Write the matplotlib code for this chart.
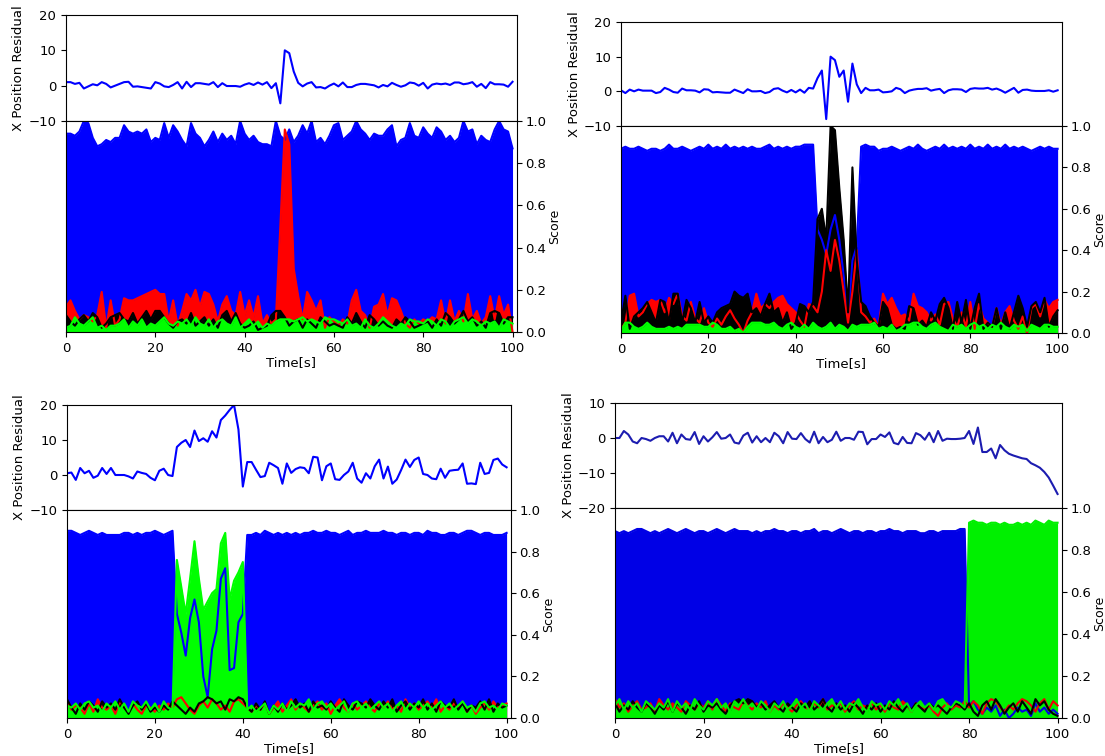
import numpy as np
import matplotlib.pyplot as plt

plt.rcParams['font.size'] = 9.5

time = np.arange(101)

# ---- panel 1 (top left) ----
res_1 = [1.0, 1.0, 0.5, 0.8, -0.8, -0.2, 0.4, 0.1, 1.0, 0.5,
         -0.5, 0.0, 0.5, 1.0, 1.1, -0.3, -0.2, -0.4, -0.6, -0.8,
         1.0, 0.6, -0.2, -0.4, 0.2, 1.0, -0.8, 1.1, -0.4, 0.7,
         0.7, 0.5, 0.3, 1.0, -0.4, 0.7, -0.1, -0.1, -0.1, -0.3,
         0.3, 0.7, 0.2, 0.9, 0.3, 1.0, -0.7, 0.7, -5.0, 10.0,
         9.2, 4.0, 0.8, -0.2, 0.6, 1.0, -0.5, -0.4, -0.8, 0.0,
         0.6, -0.2, 0.9, -0.4, -0.4, 0.2, 0.5, 0.5, 0.3, 0.1,
         -0.5, 0.2, -0.2, 0.8, 0.2, -0.3, 0.1, 0.9, 0.7, 0.0,
         0.8, -0.8, 0.3, 0.6, 0.4, 0.6, 0.2, 0.9, 0.9, 0.4,
         0.6, 1.0, -0.3, 0.5, -0.7, 1.0, 0.4, 0.4, 0.3, -0.3,
         1.1]
blue_1 = [0.94, 0.94, 0.93, 0.95, 1.0, 0.99, 0.92, 0.88, 0.89, 0.91,
          0.90, 0.92, 0.92, 0.98, 0.95, 0.94, 0.95, 0.94, 0.96, 0.90,
          0.92, 0.91, 0.99, 0.92, 0.98, 0.95, 0.91, 0.88, 0.99, 0.94,
          0.92, 0.88, 0.91, 0.95, 0.90, 0.94, 0.91, 0.93, 0.89, 1.0,
          0.94, 0.91, 0.93, 0.90, 0.89, 0.89, 0.88, 1.0, 0.93, 0.91,
          0.96, 0.90, 0.93, 0.98, 0.94, 1.0, 0.90, 0.92, 0.89, 0.93,
          0.98, 0.99, 0.91, 0.93, 0.95, 1.0, 0.96, 0.94, 0.91, 0.94,
          0.93, 0.93, 0.96, 0.98, 0.88, 0.91, 0.92, 0.99, 0.93, 0.92,
          0.97, 0.94, 0.92, 0.97, 0.95, 0.91, 0.93, 0.90, 0.92, 1.0,
          0.95, 0.96, 0.89, 0.93, 0.91, 0.90, 0.96, 1.0, 0.96, 0.95,
          0.87]
red_1 = [0.12, 0.15, 0.10, 0.06, 0.08, 0.07, 0.05, 0.08, 0.19, 0.02,
         0.15, 0.03, 0.06, 0.16, 0.15, 0.15, 0.16, 0.17, 0.18, 0.19,
         0.20, 0.18, 0.18, 0.05, 0.15, 0.03, 0.10, 0.18, 0.15, 0.20,
         0.12, 0.19, 0.18, 0.13, 0.05, 0.13, 0.17, 0.10, 0.08, 0.19,
         0.08, 0.15, 0.07, 0.17, 0.04, 0.08, 0.04, 0.06, 0.50, 0.96,
         0.89, 0.30, 0.17, 0.06, 0.19, 0.15, 0.10, 0.15, 0.02, 0.07,
         0.05, 0.03, 0.06, 0.04, 0.15, 0.20, 0.10, 0.08, 0.02, 0.12,
         0.13, 0.18, 0.08, 0.16, 0.15, 0.10, 0.04, 0.02, 0.06, 0.04,
         0.06, 0.05, 0.07, 0.06, 0.15, 0.04, 0.15, 0.05, 0.10, 0.05,
         0.18, 0.06, 0.10, 0.04, 0.07, 0.17, 0.06, 0.17, 0.08, 0.13,
         0.0]
black_1 = [0.08, 0.05, 0.03, 0.06, 0.08, 0.05, 0.09, 0.07, 0.02, 0.04,
           0.07, 0.08, 0.09, 0.06, 0.05, 0.09, 0.04, 0.07, 0.10, 0.06,
           0.10, 0.10, 0.07, 0.04, 0.02, 0.05, 0.06, 0.04, 0.09, 0.03,
           0.05, 0.07, 0.03, 0.06, 0.02, 0.08, 0.10, 0.05, 0.09, 0.04,
           0.02, 0.03, 0.05, 0.01, 0.02, 0.03, 0.08, 0.10, 0.10, 0.07,
           0.03, 0.05, 0.06, 0.02, 0.06, 0.04, 0.02, 0.07, 0.05, 0.03,
           0.04, 0.03, 0.02, 0.07, 0.04, 0.09, 0.05, 0.02, 0.08, 0.06,
           0.03, 0.05, 0.03, 0.02, 0.06, 0.04, 0.07, 0.05, 0.02, 0.03,
           0.04, 0.05, 0.02, 0.06, 0.03, 0.09, 0.07, 0.04, 0.06, 0.10,
           0.05, 0.07, 0.03, 0.05, 0.02, 0.09, 0.10, 0.09, 0.04, 0.07,
           0.07]
green_1 = [0.02, 0.03, 0.07, 0.04, 0.03, 0.05, 0.07, 0.02, 0.03, 0.01,
           0.03, 0.03, 0.04, 0.06, 0.02, 0.05, 0.03, 0.06, 0.02, 0.04,
           0.03, 0.05, 0.07, 0.04, 0.03, 0.05, 0.04, 0.06, 0.03, 0.07,
           0.04, 0.03, 0.06, 0.02, 0.05, 0.06, 0.04, 0.03, 0.07, 0.02,
           0.04, 0.06, 0.03, 0.05, 0.02, 0.04, 0.03, 0.05, 0.06, 0.06,
           0.06, 0.05, 0.06, 0.07, 0.05, 0.06, 0.05, 0.04, 0.07, 0.06,
           0.06, 0.05, 0.04, 0.06, 0.03, 0.04, 0.02, 0.06, 0.03, 0.02,
           0.04, 0.07, 0.05, 0.03, 0.02, 0.04, 0.03, 0.06, 0.05, 0.05,
           0.04, 0.06, 0.05, 0.03, 0.06, 0.05, 0.02, 0.05, 0.06, 0.07,
           0.04, 0.06, 0.05, 0.03, 0.05, 0.04, 0.05, 0.02, 0.06, 0.05,
           0.04]

# ---- panel 2 (top right) ----
res_2 = [0.3, -0.5, 0.5, 0.0, 0.5, 0.2, 0.2, 0.2, -0.5, -0.2,
         1.0, 0.5, -0.2, -0.4, 0.8, 0.3, 0.3, 0.2, -0.3, 0.6,
         0.5, -0.3, -0.2, -0.3, -0.4, -0.4, 0.5, 0.0, -0.5, 0.6,
         0.0, 0.0, 0.1, -0.5, -0.2, 0.7, 0.9, 0.2, -0.3, 0.4,
         -0.3, 0.5, -0.4, 1.0, 0.8, 3.8, 6.0, -8.0, 10.0, 9.0,
         4.2, 6.0, -3.0, 8.0, 2.0, -0.5, 1.0, 0.3, 0.3, 0.5,
         -0.3, -0.2, 0.0, 1.0, 0.6, -0.5, 0.2, 0.5, 0.7, 0.7,
         0.9, 0.2, 0.5, 0.7, -0.5, 0.3, 0.6, 0.6, 0.5, -0.2,
         0.7, 0.9, 0.8, 0.8, 1.0, 0.5, 0.8, 0.3, -0.4, 0.3,
         1.0, -0.4, 0.4, 0.5, 0.2, 0.1, 0.1, 0.1, 0.3, -0.1,
         0.3]
blue_2 = [0.89, 0.90, 0.89, 0.89, 0.90, 0.89, 0.88, 0.89, 0.89, 0.88,
          0.89, 0.91, 0.89, 0.89, 0.90, 0.89, 0.88, 0.89, 0.90, 0.89,
          0.91, 0.89, 0.90, 0.89, 0.91, 0.89, 0.90, 0.89, 0.90, 0.89,
          0.90, 0.89, 0.89, 0.90, 0.91, 0.89, 0.90, 0.89, 0.90, 0.89,
          0.90, 0.90, 0.91, 0.91, 0.91, 0.50, 0.45, 0.38, 0.50, 0.57,
          0.45, 0.28, 0.08, 0.35, 0.42, 0.90, 0.91, 0.90, 0.90, 0.88,
          0.89, 0.89, 0.90, 0.89, 0.88, 0.89, 0.90, 0.89, 0.91, 0.89,
          0.88, 0.89, 0.90, 0.89, 0.91, 0.89, 0.90, 0.89, 0.90, 0.89,
          0.91, 0.89, 0.90, 0.89, 0.91, 0.89, 0.90, 0.89, 0.91, 0.89,
          0.90, 0.89, 0.90, 0.89, 0.88, 0.89, 0.90, 0.89, 0.90, 0.89,
          0.89]
red_2 = [0.02, 0.05, 0.18, 0.19, 0.08, 0.10, 0.14, 0.16, 0.15, 0.16,
         0.10, 0.17, 0.14, 0.19, 0.08, 0.06, 0.15, 0.07, 0.05, 0.12,
         0.05, 0.03, 0.07, 0.04, 0.08, 0.11, 0.07, 0.04, 0.00, 0.06,
         0.10, 0.19, 0.12, 0.14, 0.12, 0.15, 0.17, 0.18, 0.14, 0.12,
         0.10, 0.06, 0.03, 0.14, 0.13, 0.10, 0.20, 0.40, 0.30, 0.45,
         0.35, 0.20, 0.05, 0.20, 0.40, 0.10, 0.08, 0.05, 0.07, 0.03,
         0.19, 0.14, 0.17, 0.12, 0.08, 0.09, 0.06, 0.19, 0.13, 0.12,
         0.10, 0.06, 0.09, 0.04, 0.14, 0.15, 0.07, 0.03, 0.10, 0.03,
         0.15, 0.02, 0.14, 0.07, 0.05, 0.03, 0.12, 0.04, 0.10, 0.13,
         0.06, 0.02, 0.08, 0.00, 0.12, 0.14, 0.08, 0.16, 0.12, 0.15,
         0.16]
black_2 = [0.05, 0.18, 0.02, 0.08, 0.10, 0.12, 0.15, 0.10, 0.05, 0.16,
           0.15, 0.05, 0.19, 0.19, 0.05, 0.16, 0.12, 0.05, 0.15, 0.05,
           0.08, 0.05, 0.10, 0.12, 0.13, 0.14, 0.20, 0.18, 0.17, 0.19,
           0.10, 0.12, 0.08, 0.14, 0.19, 0.10, 0.12, 0.05, 0.10, 0.02,
           0.05, 0.14, 0.13, 0.10, 0.15, 0.55, 0.60, 0.45, 1.00, 0.98,
           0.70, 0.45, 0.10, 0.80, 0.35, 0.15, 0.13, 0.08, 0.05, 0.03,
           0.15, 0.12, 0.04, 0.02, 0.03, 0.02, 0.13, 0.12, 0.04, 0.06,
           0.03, 0.10, 0.06, 0.14, 0.17, 0.12, 0.02, 0.15, 0.05, 0.16,
           0.02, 0.12, 0.19, 0.02, 0.05, 0.03, 0.12, 0.02, 0.10, 0.02,
           0.10, 0.18, 0.12, 0.03, 0.13, 0.15, 0.10, 0.17, 0.03, 0.08,
           0.11]
green_2 = [0.01, 0.05, 0.05, 0.03, 0.02, 0.03, 0.05, 0.03, 0.02, 0.02,
           0.02, 0.03, 0.02, 0.03, 0.02, 0.04, 0.04, 0.04, 0.04, 0.03,
           0.03, 0.05, 0.04, 0.02, 0.02, 0.03, 0.01, 0.02, 0.00, 0.03,
           0.05, 0.05, 0.05, 0.04, 0.04, 0.05, 0.03, 0.02, 0.04, 0.05,
           0.03, 0.02, 0.04, 0.02, 0.05, 0.03, 0.02, 0.03, 0.05, 0.02,
           0.04, 0.03, 0.01, 0.04, 0.03, 0.04, 0.04, 0.04, 0.05, 0.02,
           0.03, 0.02, 0.04, 0.01, 0.02, 0.04, 0.04, 0.05, 0.05, 0.03,
           0.02, 0.04, 0.05, 0.03, 0.02, 0.01, 0.04, 0.03, 0.04, 0.02,
           0.04, 0.05, 0.03, 0.04, 0.02, 0.04, 0.03, 0.05, 0.03, 0.02,
           0.04, 0.03, 0.04, 0.01, 0.04, 0.03, 0.02, 0.04, 0.04, 0.03,
           0.03]

# ---- panel 3 (bottom left) ----
res_3 = [0.5, 0.7, -1.4, 2.0, 0.5, 1.2, -0.8, -0.2, 2.0, 0.3,
         2.0, 0.0, 0.0, 0.0, -0.4, -1.0, 1.0, 0.6, 0.3, -0.8,
         -1.5, 1.2, 1.8, 0.0, -0.3, 8.0, 9.2, 10.0, 8.0, 12.7,
         9.7, 10.5, 9.5, 12.5, 10.7, 15.7, 17.0, 18.6, 20.0, 13.0,
         -3.3, 3.7, 3.7, 1.5, -0.6, -0.3, 3.5, 2.8, 2.0, -2.5,
         3.3, 0.6, 1.7, 2.2, 2.0, 0.5, 5.2, 5.0, -1.5, 2.5,
         3.3, -1.2, -1.4, 0.0, 1.0, 3.5, -1.0, -2.2, 0.5, -1.0,
         2.5, 4.4, -1.0, 2.4, -2.5, -1.3, 1.4, 4.4, 2.3, 4.3,
         5.0, 0.3, 0.0, -1.0, -1.2, 1.8, -0.8, 1.2, 1.4, 1.5,
         3.3, -2.5, -2.4, -2.6, 3.5, 0.3, 0.6, 4.3, 4.7, 3.0,
         2.2]
blue_3 = [0.90, 0.90, 0.89, 0.88, 0.89, 0.90, 0.89, 0.88, 0.89, 0.88,
          0.88, 0.88, 0.88, 0.89, 0.89, 0.88, 0.89, 0.88, 0.89, 0.89,
          0.90, 0.89, 0.88, 0.89, 0.90, 0.50, 0.41, 0.30, 0.48, 0.57,
          0.46, 0.20, 0.10, 0.33, 0.42, 0.67, 0.72, 0.23, 0.24, 0.46,
          0.50, 0.88, 0.88, 0.89, 0.88, 0.90, 0.89, 0.88, 0.89, 0.88,
          0.89, 0.88, 0.89, 0.88, 0.89, 0.89, 0.90, 0.89, 0.89, 0.90,
          0.89, 0.89, 0.88, 0.89, 0.90, 0.88, 0.89, 0.89, 0.90, 0.89,
          0.89, 0.89, 0.90, 0.89, 0.89, 0.88, 0.89, 0.89, 0.88, 0.89,
          0.89, 0.88, 0.90, 0.89, 0.89, 0.88, 0.88, 0.89, 0.89, 0.88,
          0.89, 0.90, 0.90, 0.89, 0.88, 0.89, 0.89, 0.88, 0.88, 0.88,
          0.89]
red_3 = [0.08, 0.04, 0.06, 0.05, 0.02, 0.07, 0.03, 0.09, 0.05, 0.04,
         0.06, 0.02, 0.08, 0.05, 0.03, 0.07, 0.04, 0.02, 0.06, 0.05,
         0.03, 0.06, 0.04, 0.07, 0.05, 0.09, 0.10, 0.07, 0.04, 0.02,
         0.06, 0.08, 0.05, 0.09, 0.07, 0.04, 0.06, 0.03, 0.08, 0.09,
         0.07, 0.05, 0.03, 0.06, 0.04, 0.07, 0.02, 0.05, 0.08, 0.03,
         0.06, 0.09, 0.04, 0.07, 0.05, 0.03, 0.06, 0.08, 0.04, 0.07,
         0.02, 0.06, 0.09, 0.05, 0.03, 0.07, 0.04, 0.06, 0.08, 0.05,
         0.03, 0.07, 0.05, 0.08, 0.04, 0.06, 0.03, 0.09, 0.05, 0.07,
         0.04, 0.06, 0.08, 0.05, 0.09, 0.03, 0.06, 0.04, 0.07, 0.05,
         0.08, 0.03, 0.06, 0.02, 0.05, 0.07, 0.04, 0.08, 0.05, 0.06,
         0.07]
black_3 = [0.09, 0.05, 0.02, 0.07, 0.04, 0.08, 0.06, 0.03, 0.08, 0.05,
           0.07, 0.04, 0.09, 0.05, 0.02, 0.06, 0.08, 0.04, 0.07, 0.03,
           0.05, 0.03, 0.06, 0.04, 0.08, 0.06, 0.04, 0.02, 0.05, 0.03,
           0.07, 0.08, 0.10, 0.09, 0.07, 0.08, 0.04, 0.09, 0.08, 0.10,
           0.09, 0.05, 0.03, 0.07, 0.04, 0.08, 0.02, 0.06, 0.03, 0.07,
           0.04, 0.06, 0.09, 0.05, 0.07, 0.03, 0.08, 0.05, 0.06, 0.04,
           0.08, 0.05, 0.03, 0.09, 0.06, 0.04, 0.08, 0.07, 0.05, 0.09,
           0.06, 0.04, 0.08, 0.05, 0.09, 0.03, 0.06, 0.08, 0.04, 0.07,
           0.05, 0.09, 0.04, 0.07, 0.03, 0.08, 0.06, 0.05, 0.09, 0.04,
           0.07, 0.03, 0.06, 0.05, 0.08, 0.04, 0.09, 0.03, 0.07, 0.05,
           0.06]
green_3 = [0.06, 0.05, 0.07, 0.04, 0.07, 0.08, 0.05, 0.06, 0.03, 0.07,
           0.05, 0.08, 0.04, 0.07, 0.03, 0.08, 0.06, 0.05, 0.08, 0.04,
           0.07, 0.03, 0.08, 0.05, 0.04, 0.76, 0.63, 0.50, 0.67, 0.85,
           0.67, 0.52, 0.56, 0.60, 0.62, 0.84, 0.89, 0.57, 0.66, 0.70,
           0.75, 0.04, 0.06, 0.03, 0.05, 0.07, 0.02, 0.06, 0.04, 0.07,
           0.03, 0.08, 0.05, 0.07, 0.06, 0.09, 0.04, 0.07, 0.08, 0.05,
           0.07, 0.04, 0.06, 0.08, 0.03, 0.07, 0.08, 0.05, 0.07, 0.04,
           0.06, 0.08, 0.05, 0.07, 0.03, 0.06, 0.08, 0.04, 0.07, 0.05,
           0.08, 0.05, 0.07, 0.04, 0.06, 0.08, 0.05, 0.07, 0.04, 0.06,
           0.08, 0.05, 0.06, 0.03, 0.07, 0.08, 0.05, 0.06, 0.04, 0.07,
           0.06]

# ---- panel 4 (bottom right) ----
res_4 = [0.0, 0.0, 2.0, 1.0, -1.0, -1.5, 0.0, -0.3, -0.8, 0.0,
         0.5, 0.5, -1.0, 1.5, -1.5, 1.0, -0.3, -0.5, 1.7, -1.7,
         0.5, -1.0, 0.2, 1.7, -0.2, 0.0, 1.0, -1.3, -1.6, 0.7,
         1.5, -1.3, 0.5, -1.2, 0.0, -1.2, 1.5, 0.5, -1.5, 1.7,
         -0.2, -0.3, 1.4, -0.3, -1.3, 1.8, -1.5, 0.3, -1.2, -0.5,
         1.8, -0.8, 0.0, 0.0, -0.5, 1.8, 1.7, -1.8, -0.3, -0.3,
         1.0, 0.3, 1.6, -1.4, -1.8, 0.3, -1.4, -1.5, 1.4, 0.8,
         -0.5, 1.5, -1.2, 2.0, -0.8, -0.2, -0.3, -0.3, -0.2, 0.0,
         2.0, -1.7, 3.0, -4.0, -4.0, -3.0, -5.8, -2.0, -3.5, -4.5,
         -5.0, -5.4, -5.8, -6.0, -7.2, -7.8, -8.5, -9.7, -11.3, -13.6,
         -16.0]
blue_4 = [0.89, 0.88, 0.89, 0.88, 0.89, 0.90, 0.90, 0.89, 0.88, 0.89,
          0.88, 0.89, 0.90, 0.89, 0.88, 0.89, 0.90, 0.89, 0.88, 0.89,
          0.89, 0.88, 0.89, 0.90, 0.89, 0.88, 0.89, 0.90, 0.89, 0.89,
          0.89, 0.88, 0.89, 0.88, 0.89, 0.89, 0.90, 0.89, 0.89, 0.88,
          0.89, 0.89, 0.88, 0.89, 0.89, 0.90, 0.88, 0.89, 0.89, 0.88,
          0.89, 0.90, 0.89, 0.88, 0.89, 0.89, 0.88, 0.89, 0.89, 0.88,
          0.89, 0.89, 0.90, 0.89, 0.89, 0.88, 0.89, 0.89, 0.89, 0.88,
          0.88, 0.89, 0.89, 0.88, 0.89, 0.89, 0.89, 0.89, 0.90, 0.90,
          0.06, 0.08, 0.04, 0.02, 0.05, 0.03, 0.06, 0.01, 0.04, 0.00,
          0.02, 0.05, 0.03, 0.04, 0.01, 0.07, 0.03, 0.05, 0.02, 0.04,
          0.02]
red_4 = [0.09, 0.05, 0.07, 0.03, 0.06, 0.08, 0.04, 0.05, 0.07, 0.03,
         0.09, 0.06, 0.04, 0.07, 0.05, 0.03, 0.08, 0.06, 0.04, 0.07,
         0.05, 0.08, 0.04, 0.09, 0.06, 0.03, 0.07, 0.05, 0.04, 0.08,
         0.06, 0.04, 0.07, 0.05, 0.08, 0.03, 0.06, 0.04, 0.07, 0.05,
         0.03, 0.06, 0.08, 0.05, 0.04, 0.07, 0.05, 0.09, 0.04, 0.06,
         0.05, 0.07, 0.03, 0.06, 0.08, 0.04, 0.06, 0.05, 0.07, 0.04,
         0.06, 0.03, 0.07, 0.05, 0.04, 0.08, 0.06, 0.03, 0.07, 0.05,
         0.04, 0.06, 0.03, 0.01, 0.05, 0.07, 0.04, 0.06, 0.05, 0.08,
         0.05, 0.08, 0.06, 0.02, 0.07, 0.09, 0.08, 0.05, 0.03, 0.06,
         0.04, 0.07, 0.09, 0.08, 0.06, 0.03, 0.07, 0.09, 0.04, 0.08,
         0.06]
black_4 = [0.07, 0.03, 0.06, 0.04, 0.08, 0.05, 0.03, 0.07, 0.05, 0.02,
           0.06, 0.04, 0.08, 0.03, 0.07, 0.05, 0.02, 0.06, 0.04, 0.08,
           0.03, 0.06, 0.05, 0.07, 0.04, 0.02, 0.06, 0.08, 0.09, 0.07,
           0.09, 0.08, 0.05, 0.07, 0.04, 0.06, 0.08, 0.05, 0.03, 0.07,
           0.05, 0.03, 0.07, 0.05, 0.08, 0.04, 0.06, 0.09, 0.05, 0.03,
           0.07, 0.04, 0.06, 0.03, 0.07, 0.05, 0.02, 0.06, 0.04, 0.07,
           0.03, 0.06, 0.04, 0.08, 0.05, 0.03, 0.06, 0.04, 0.07, 0.05,
           0.03, 0.07, 0.05, 0.06, 0.04, 0.02, 0.05, 0.07, 0.06, 0.04,
           0.07, 0.03, 0.01, 0.06, 0.08, 0.04, 0.09, 0.06, 0.02, 0.05,
           0.07, 0.03, 0.08, 0.05, 0.02, 0.09, 0.06, 0.08, 0.04, 0.02,
           0.01]
green_4 = [0.06, 0.09, 0.04, 0.08, 0.05, 0.07, 0.03, 0.08, 0.06, 0.04,
           0.07, 0.05, 0.09, 0.03, 0.08, 0.05, 0.07, 0.04, 0.09, 0.06,
           0.04, 0.08, 0.06, 0.09, 0.05, 0.07, 0.03, 0.08, 0.06, 0.09,
           0.05, 0.07, 0.04, 0.08, 0.06, 0.03, 0.07, 0.05, 0.08, 0.04,
           0.06, 0.09, 0.05, 0.07, 0.03, 0.08, 0.06, 0.04, 0.07, 0.09,
           0.05, 0.08, 0.04, 0.07, 0.06, 0.09, 0.05, 0.03, 0.08, 0.06,
           0.07, 0.04, 0.08, 0.06, 0.09, 0.05, 0.07, 0.03, 0.06, 0.08,
           0.05, 0.07, 0.04, 0.08, 0.09, 0.06, 0.05, 0.08, 0.07, 0.05,
           0.93, 0.94, 0.93, 0.93, 0.92, 0.93, 0.93, 0.92, 0.93, 0.92,
           0.92, 0.93, 0.92, 0.93, 0.92, 0.94, 0.93, 0.92, 0.94, 0.93,
           0.93]

for s in [res_1, blue_1, red_1, black_1, green_1, res_2, blue_2, red_2, black_2, green_2,
          res_3, blue_3, red_3, black_3, green_3, res_4, blue_4, red_4, black_4, green_4]:
    assert len(s) == len(time), len(s)

W, H = 1105, 756
fig = plt.figure(figsize=(W / 100, H / 100), dpi=100)


def box(x0, x1, y0, y1):
    # pixel box (top-left origin) -> figure fraction
    return [x0 / W, 1 - y1 / H, (x1 - x0) / W, (y1 - y0) / H]


def panel(x0, x1, ytop, ymid, ybot, res, scores, ylim, yticks, line_col):
    top = fig.add_axes(box(x0, x1, ytop, ymid))
    bot = fig.add_axes(box(x0, x1, ymid, ybot))

    top.plot(time, res, color=line_col, lw=1.5)
    top.set_xlim(0, 101)
    top.set_ylim(*ylim)
    top.set_yticks(yticks)
    top.set_xticks([])
    top.set_ylabel('X Position Residual', labelpad=2)

    for vals, col in scores:
        bot.fill_between(time, 0, vals, color=col, lw=0)
    for vals, col in scores:
        bot.plot(time, vals, color=col, lw=1.5)
    bot.set_xlim(0, 101)
    bot.set_ylim(0, 1)
    bot.set_xticks([0, 20, 40, 60, 80, 100])
    bot.set_yticks([0, 0.2, 0.4, 0.6, 0.8, 1.0])
    bot.yaxis.tick_right()
    bot.tick_params(axis='y', pad=2.5)
    bot.yaxis.set_label_position('right')
    bot.set_ylabel('Score', labelpad=1, fontsize=9)
    bot.set_xlabel('Time[s]', labelpad=1)


panel(66, 517, 15, 121, 332, res_1,
      [(blue_1, '#0000ff'), (red_1, '#ff0000'), (black_1, '#000000'), (green_1, '#00ff00')],
      (-10, 20), [-10, 0, 10, 20], '#0000ff')
panel(621, 1062, 22, 126, 333, res_2,
      [(blue_2, '#0000ff'), (red_2, '#ff0000'), (black_2, '#000000'), (green_2, '#00ff00')],
      (-10, 20), [-10, 0, 10, 20], '#0000ff')
panel(67, 511, 405, 510, 718, res_3,
      [(blue_3, '#0000ff'), (red_3, '#ff0000'), (black_3, '#000000'), (green_3, '#00ff00')],
      (-10, 20), [-10, 0, 10, 20], '#0000ff')
panel(615, 1062, 403, 508, 718, res_4,
      [(blue_4, '#0000e6'), (red_4, '#ee0000'), (black_4, '#000000'), (green_4, '#00f000')],
      (-20, 10), [-20, -10, 0, 10], '#1c1cb0')

fig.savefig('out.png', dpi=100)
